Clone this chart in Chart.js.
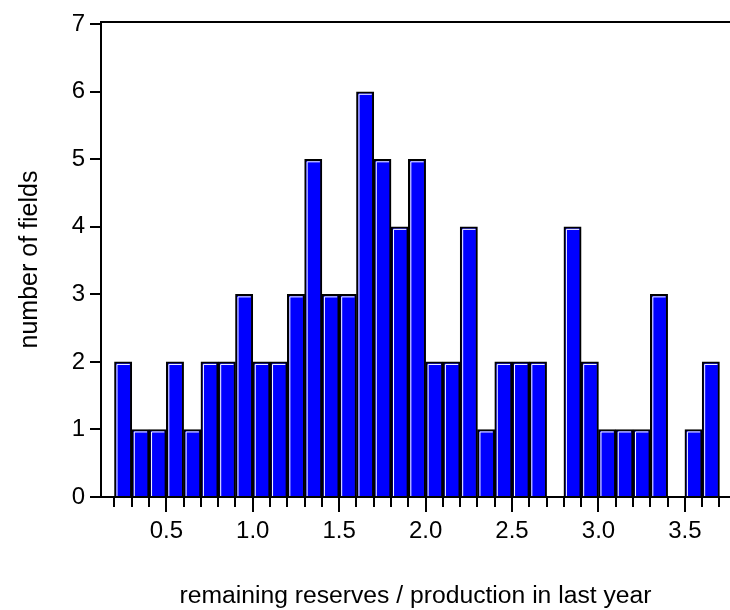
<!DOCTYPE html>
<html>
<head>
<meta charset="utf-8">
<script src="https://cdn.jsdelivr.net/npm/chart.js@4/dist/chart.umd.min.js"></script>
<style>
  html, body { margin: 0; padding: 0; background: #fff; }
  #wrap { width: 730px; height: 610px; }
</style>
</head>
<body>
<div id="wrap"><canvas id="c" width="730" height="610"></canvas></div>
<script>
// Histogram bins (width 0.1): bin centres and number of fields per bin
const binCenters = [0.25, 0.35, 0.45, 0.55, 0.65, 0.75, 0.85, 0.95, 1.05, 1.15,
                    1.25, 1.35, 1.45, 1.55, 1.65, 1.75, 1.85, 1.95, 2.05, 2.15,
                    2.25, 2.35, 2.45, 2.55, 2.65, 2.75, 2.85, 2.95, 3.05, 3.15,
                    3.25, 3.35, 3.45, 3.55, 3.65];
const fieldCounts = [2, 1, 1, 2, 1, 2, 2, 3, 2, 2,
                     3, 5, 3, 3, 6, 5, 4, 5, 2, 2,
                     4, 1, 2, 2, 2, 0, 4, 2, 1, 1,
                     1, 3, 0, 1, 2];
const xLabelStep = 0.5;   // labelled x ticks
const xMinorStep = 0.1;   // tick marks
const yTickStep = 1;

const xTitle = 'remaining reserves / production in last year';
const yTitle = 'number of fields';

const FONT = "'Liberation Sans', Arial, Helvetica, sans-serif";
Chart.defaults.color = '#000';
Chart.defaults.font.family = FONT;

const points = binCenters.map((c, i) => ({ x: c, y: fieldCounts[i] }));

// white bevel inside every bar, top frame line and x tick marks
const decorations = {
  id: 'decorations',
  afterDatasetsDraw(chart) {
    const ctx = chart.ctx;
    const meta = chart.getDatasetMeta(0);
    ctx.save();
    ctx.strokeStyle = '#fff';
    ctx.lineWidth = 1;
    meta.data.forEach(bar => {
      const p = bar.getProps(['x', 'y', 'base', 'width'], true);
      if (p.base - p.y < 5) return;
      const l = p.x - p.width / 2 + 2;
      const r = p.x + p.width / 2 - 2;
      const t = p.y + 2;
      ctx.beginPath();
      ctx.moveTo(l + 0.5, p.base);
      ctx.lineTo(l + 0.5, t + 0.5);
      ctx.lineTo(r, t + 0.5);
      ctx.stroke();
    });
    ctx.restore();
  },
  afterDraw(chart) {
    const { ctx, chartArea } = chart;
    const xs = chart.scales.x;
    ctx.save();
    ctx.strokeStyle = '#000';
    ctx.lineWidth = 2;
    ctx.beginPath();
    ctx.moveTo(chartArea.left - 1, chartArea.top);
    ctx.lineTo(chartArea.right, chartArea.top);
    ctx.stroke();
    xs.ticks.forEach(t => {
      const px = Math.round(xs.getPixelForValue(t.value));
      const len = t.label ? 15 : 10;
      ctx.beginPath();
      ctx.moveTo(px, chartArea.bottom);
      ctx.lineTo(px, chartArea.bottom + len);
      ctx.stroke();
    });
    ctx.restore();
  }
};

new Chart(document.getElementById('c'), {
  type: 'bar',
  data: {
    datasets: [{
      data: points,
      backgroundColor: '#0000ff',
      borderColor: '#000',
      borderWidth: 2,
      barPercentage: 1,
      categoryPercentage: 1
    }]
  },
  options: {
    responsive: false,
    animation: false,
    devicePixelRatio: 1,
    layout: { padding: { top: 22, left: 0, right: 0, bottom: 0 } },
    plugins: { legend: { display: false }, tooltip: { enabled: false } },
    scales: {
      x: {
        type: 'linear',
        min: 0.122,
        max: 3.761,
        offset: false,
        grid: { display: true, drawOnChartArea: false, drawTicks: false, offset: false },
        border: { display: true, color: '#000', width: 2 },
        ticks: {
          stepSize: xMinorStep,
          includeBounds: false,
          autoSkip: false,
          maxRotation: 0,
          padding: 20,
          font: { size: 24, family: FONT },
          color: '#000',
          callback: v => {
            const k = v / xLabelStep;
            return Math.abs(k - Math.round(k)) < 1e-6 ? v.toFixed(1) : '';
          }
        },
        title: {
          display: true,
          text: xTitle,
          color: '#000',
          font: { size: 24.7, family: FONT, lineHeight: 1.1 },
          padding: { top: 0, bottom: 0 }
        },
        afterFit: s => { s.height = 113; s.paddingLeft = 0; s.paddingRight = 0; }
      },
      y: {
        min: 0,
        max: 7.033,
        grid: { display: true, drawOnChartArea: false, drawTicks: true, tickLength: 11, color: '#000', lineWidth: 2 },
        border: { display: true, color: '#000', width: 2 },
        ticks: {
          stepSize: yTickStep,
          includeBounds: false,
          padding: 5,
          font: { size: 24, family: FONT },
          color: '#000'
        },
        title: {
          display: true,
          text: yTitle,
          color: '#000',
          font: { size: 25, family: FONT, lineHeight: 1.1 },
          padding: { top: 16, bottom: 0 }
        },
        afterFit: s => { s.width = 101; }
      }
    }
  },
  plugins: [decorations]
});
</script>
</body>
</html>
